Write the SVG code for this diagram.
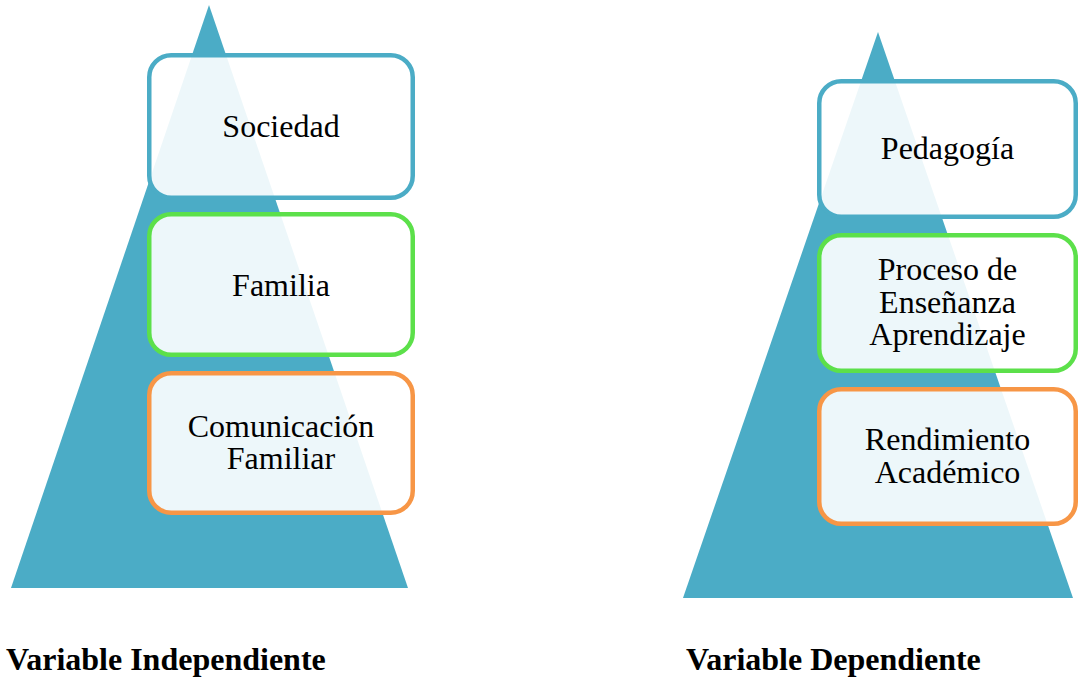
<svg xmlns="http://www.w3.org/2000/svg" width="1079" height="679" viewBox="0 0 1079 679">
<style>
.tri{fill:#4BACC6}
.box{fill:#FFFFFF;fill-opacity:0.9;stroke-width:4.5}
.b1{stroke:#4BACC6}
.b2{stroke:#5CE04A}
.b3{stroke:#F79646}
.t{font-family:"Liberation Serif","Times New Roman",serif;font-size:32px;fill:#000;text-anchor:middle}
.h{font-family:"Liberation Serif","Times New Roman",serif;font-size:32px;font-weight:bold;fill:#000}
</style>
<rect width="1079" height="679" fill="#FFFFFF"/>
<g id="left-pyramid">
<polygon class="tri" points="209,5 408,588 11,588"/>
</g>
<g id="right-pyramid">
<polygon class="tri" points="878,32 1073,598 683,598"/>
</g>
<g id="connectors"></g>
<g id="sociedad">
<rect class="box b1" x="149.25" y="55.25" width="263.5" height="142.5" rx="22"/>
<text class="t" x="281" y="137">Sociedad</text>
</g>
<g id="familia">
<rect class="box b2" x="149.25" y="214.25" width="263.5" height="140.5" rx="22"/>
<text class="t" x="281" y="296">Familia</text>
</g>
<g id="comunicacion">
<rect class="box b3" x="149.25" y="373.25" width="263.5" height="139.5" rx="22"/>
<text class="t" x="281" y="437">Comunicación</text>
<text class="t" x="281" y="469">Familiar</text>
</g>
<g id="pedagogia">
<rect class="box b1" x="819.25" y="81.25" width="256.5" height="135.5" rx="22"/>
<text class="t" x="947.5" y="159">Pedagogía</text>
</g>
<g id="proceso">
<rect class="box b2" x="819.25" y="235.25" width="256.5" height="135.5" rx="22"/>
<text class="t" x="947.5" y="280">Proceso de</text>
<text class="t" x="947.5" y="313">Enseñanza</text>
<text class="t" x="947.5" y="345">Aprendizaje</text>
</g>
<g id="rendimiento">
<rect class="box b3" x="819.25" y="389.25" width="256.5" height="134.5" rx="22"/>
<text class="t" x="947.5" y="450">Rendimiento</text>
<text class="t" x="947.5" y="483">Académico</text>
</g>
<g id="labels">
<text class="h" x="6" y="670">Variable Independiente</text>
<text class="h" x="686" y="670">Variable Dependiente</text>
</g>
</svg>
